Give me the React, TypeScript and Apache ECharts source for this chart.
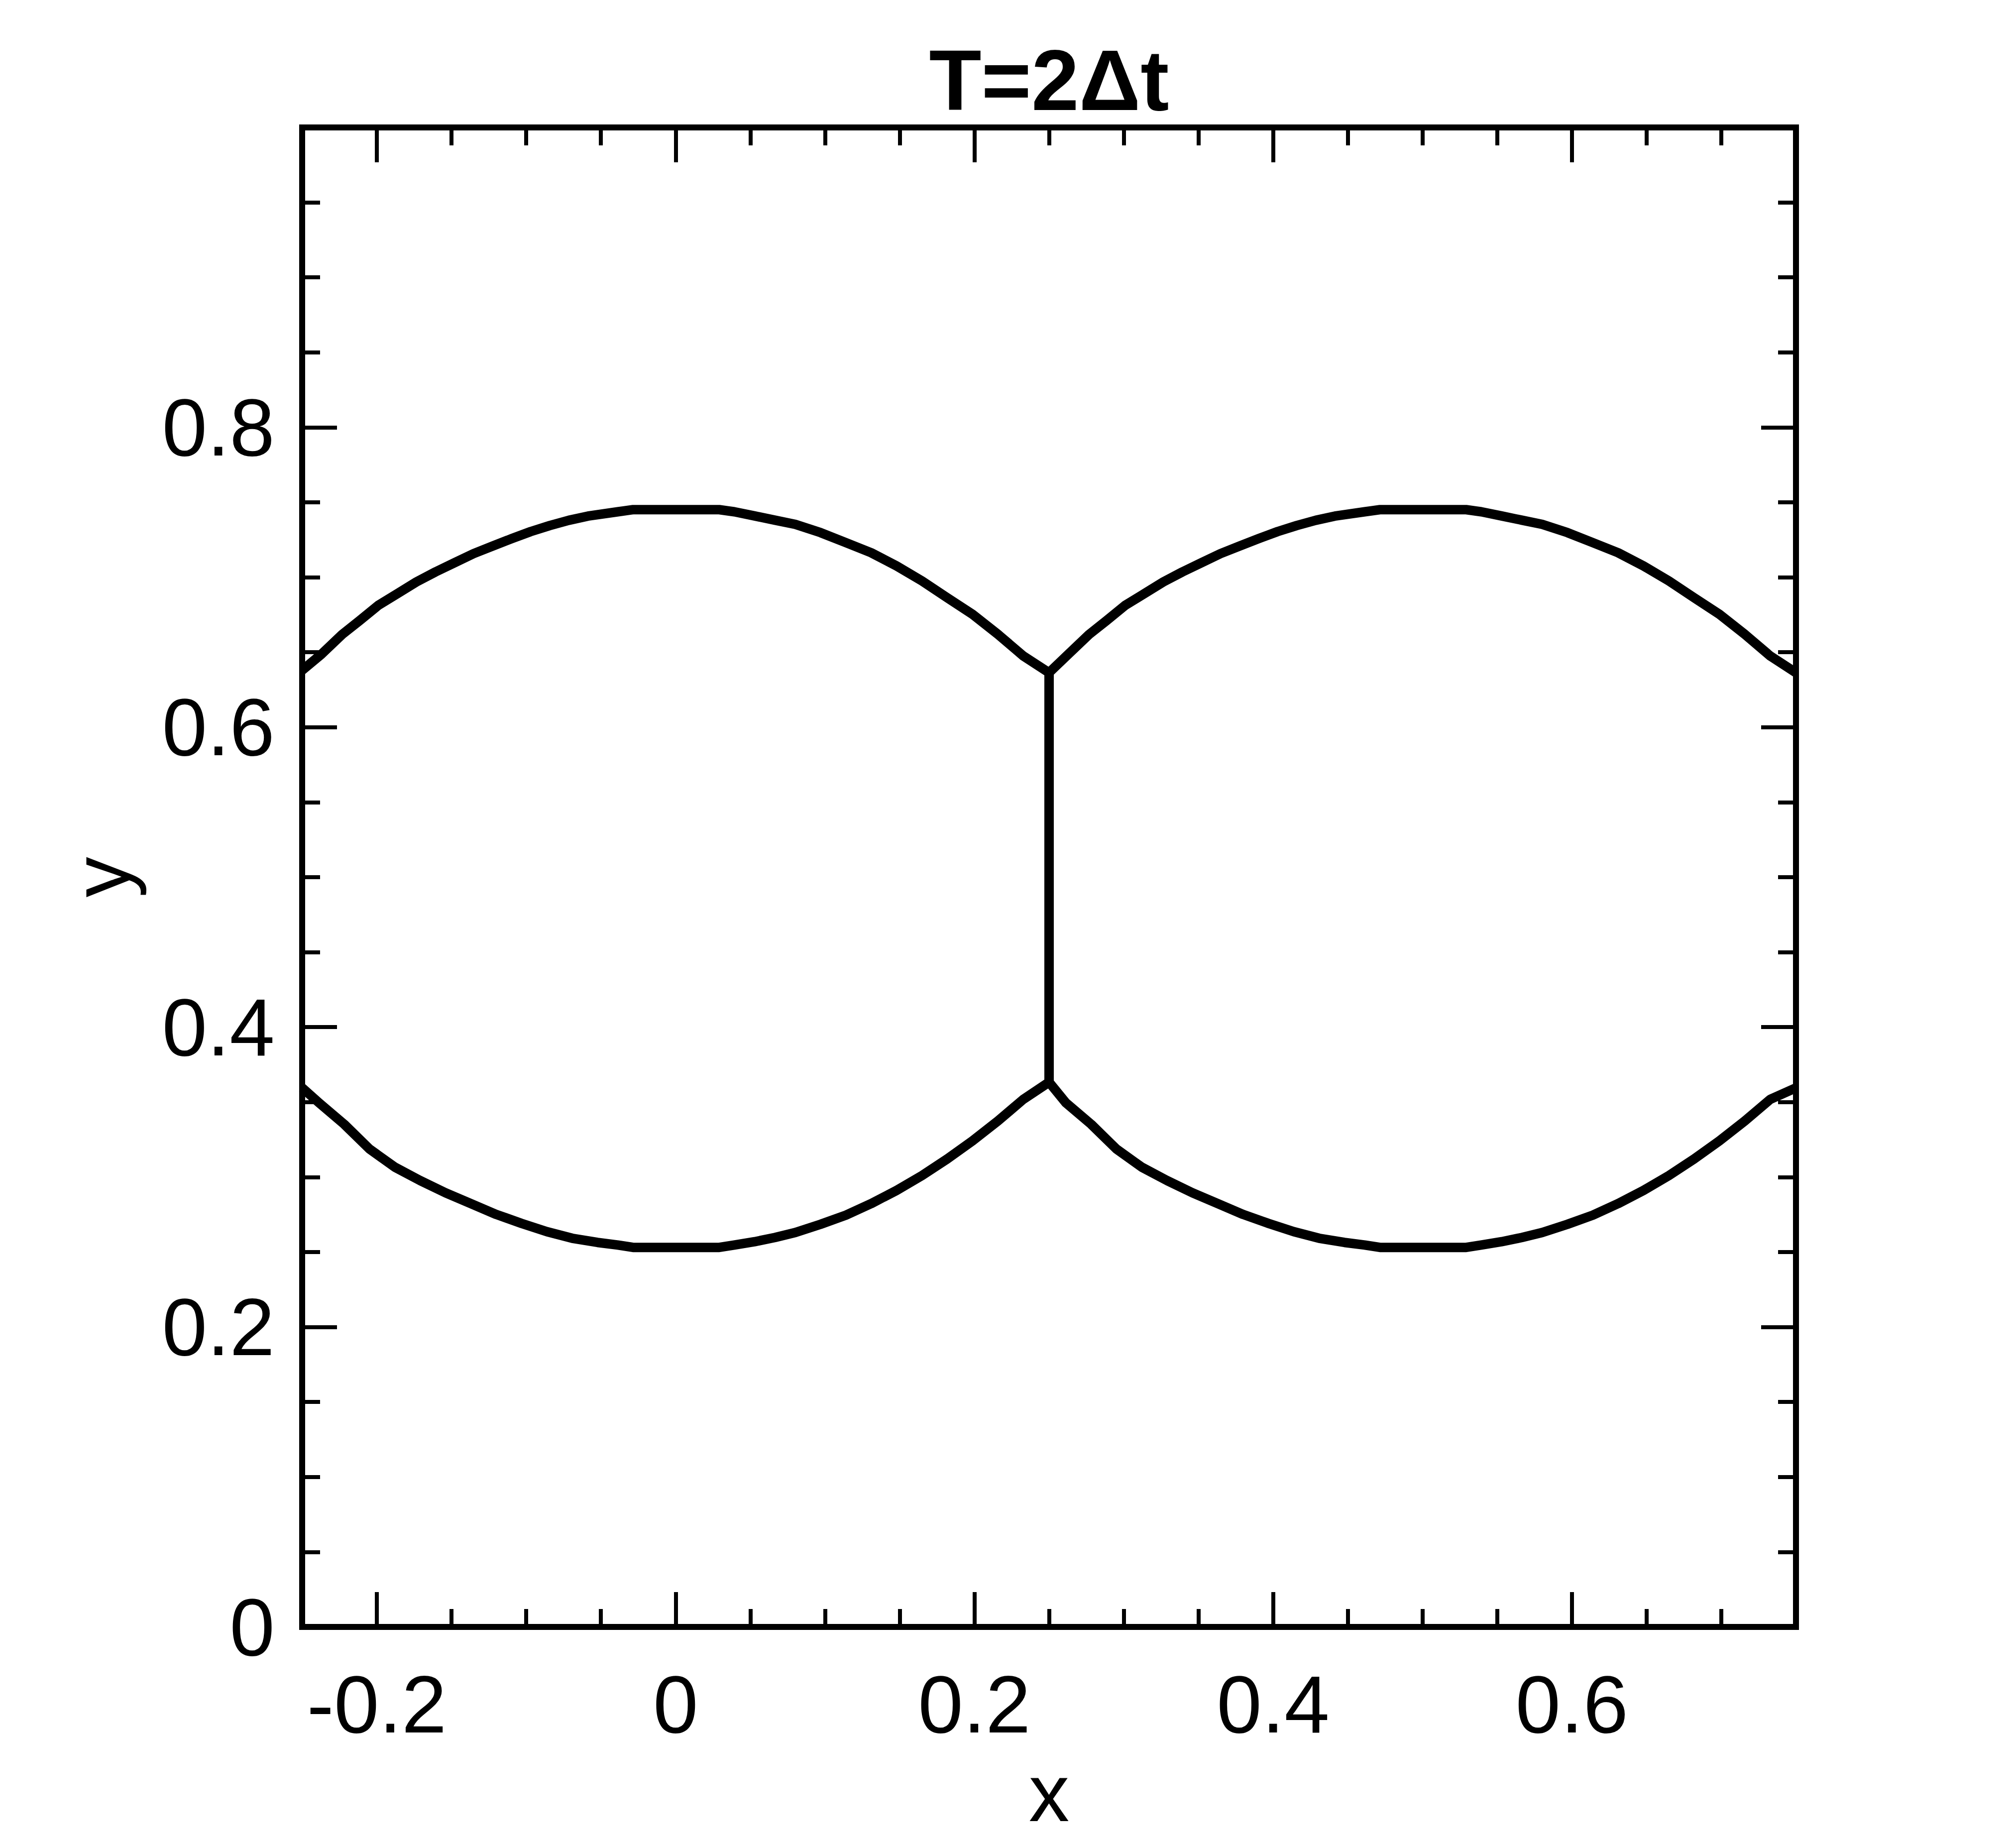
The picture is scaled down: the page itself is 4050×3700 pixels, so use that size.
import React, { useEffect, useRef } from "react";
import * as echarts from "echarts";

const titleText = "T=2Δt";
const xName = "x";
const yName = "y";

const xRange = [-0.25, 0.75];
const yRange = [0, 1];

const xMajorTicks = [-0.2, 0, 0.2, 0.4, 0.6];
const xMinorTicks = [-0.15, -0.1, -0.05, 0.05, 0.1, 0.15, 0.25, 0.3, 0.35, 0.45, 0.5, 0.55, 0.65, 0.7];
const yMajorTicks = [0, 0.2, 0.4, 0.6, 0.8];
const yMinorTicks = [0.05, 0.1, 0.15, 0.25, 0.3, 0.35, 0.45, 0.5, 0.55, 0.65, 0.7, 0.75, 0.85, 0.9, 0.95];

const leftBubbleTop: [number, number][] = [
  [-0.25, 0.638], [-0.2372, 0.6486], [-0.2232, 0.6619], [-0.2117, 0.671], [-0.199, 0.6813],
  [-0.1862, 0.6891], [-0.1735, 0.6969], [-0.1607, 0.7036], [-0.148, 0.7097], [-0.1352, 0.7158],
  [-0.1225, 0.7208], [-0.1097, 0.7258], [-0.097, 0.7305], [-0.0842, 0.7345], [-0.0715, 0.738],
  [-0.0587, 0.7408], [-0.0387, 0.7437], [-0.0285, 0.7451],
  [0.0292, 0.7451], [0.0393, 0.7437], [0.0529, 0.7409], [0.0665, 0.7381], [0.0801, 0.7353],
  [0.097, 0.7298], [0.114, 0.7231], [0.1309, 0.7164], [0.1479, 0.7076], [0.1649, 0.6976],
  [0.1818, 0.6864], [0.1988, 0.6753], [0.2157, 0.662], [0.2327, 0.6476], [0.25, 0.6364],
];

const leftBubbleBottom: [number, number][] = [
  [-0.25, 0.3595], [-0.2388, 0.3496], [-0.2218, 0.3352], [-0.2049, 0.3187], [-0.1879, 0.3066],
  [-0.171, 0.2977], [-0.154, 0.2895], [-0.137, 0.2823], [-0.1201, 0.2751], [-0.1031, 0.2691],
  [-0.0862, 0.2636], [-0.0692, 0.2592], [-0.0522, 0.2564], [-0.0387, 0.2547], [-0.0285, 0.2531],
  [0.0292, 0.2531], [0.0393, 0.2547], [0.0529, 0.2569], [0.0665, 0.2597], [0.0801, 0.263],
  [0.097, 0.2685], [0.114, 0.2746], [0.1309, 0.2823], [0.1479, 0.2911], [0.1649, 0.301],
  [0.1818, 0.3121], [0.1988, 0.3242], [0.2157, 0.3374], [0.2327, 0.3518], [0.25, 0.3633],
];

const rightBubbleTop: [number, number][] = [
  [0.25, 0.6364], [0.2628, 0.6486], [0.2768, 0.6619], [0.2883, 0.671], [0.301, 0.6813],
  [0.3138, 0.6891], [0.3265, 0.6969], [0.3393, 0.7036], [0.352, 0.7097], [0.3648, 0.7158],
  [0.3775, 0.7208], [0.3903, 0.7258], [0.403, 0.7305], [0.4158, 0.7345], [0.4285, 0.738],
  [0.4413, 0.7408], [0.4613, 0.7437], [0.4715, 0.7451],
  [0.5292, 0.7451], [0.5393, 0.7437], [0.5529, 0.7409], [0.5665, 0.7381], [0.5801, 0.7353],
  [0.597, 0.7298], [0.614, 0.7231], [0.6309, 0.7164], [0.6479, 0.7076], [0.6649, 0.6976],
  [0.6818, 0.6864], [0.6988, 0.6753], [0.7157, 0.662], [0.7327, 0.6476], [0.75, 0.6364],
];

const rightBubbleBottom: [number, number][] = [
  [0.25, 0.3633], [0.2612, 0.3496], [0.2782, 0.3352], [0.2951, 0.3187], [0.3121, 0.3066],
  [0.329, 0.2977], [0.346, 0.2895], [0.363, 0.2823], [0.3799, 0.2751], [0.3969, 0.2691],
  [0.4138, 0.2636], [0.4308, 0.2592], [0.4478, 0.2564], [0.4613, 0.2547], [0.4715, 0.2531],
  [0.5292, 0.2531], [0.5393, 0.2547], [0.5529, 0.2569], [0.5665, 0.2597], [0.5801, 0.263],
  [0.597, 0.2685], [0.614, 0.2746], [0.6309, 0.2823], [0.6479, 0.2911], [0.6649, 0.301],
  [0.6818, 0.3121], [0.6988, 0.3242], [0.7157, 0.3374], [0.7327, 0.3518], [0.75, 0.3595],
];

const middleWall: [number, number][] = [
  [0.25, 0.6364], [0.25, 0.3633],
];

const FONT = "'Liberation Sans', Arial, Helvetica, sans-serif";
const GRID = { left: 607, top: 256, width: 3001, height: 3012 };
const MAJOR_LEN = 70;
const MINOR_LEN = 36;
const TICK_W = 8;
const LABEL_SIZE = 163;

function xAxisDef(position: "top" | "bottom", ticks: number[], len: number, labels: boolean) {
  return {
    type: "value",
    position,
    min: xRange[0],
    max: xRange[1],
    splitLine: { show: false },
    axisLine: { show: false, onZero: false },
    axisTick: { show: true, inside: true, length: len, customValues: ticks, lineStyle: { color: "#000", width: TICK_W } },
    axisLabel: labels
      ? { show: true, customValues: ticks, margin: 74, fontSize: LABEL_SIZE, fontFamily: FONT, color: "#000", formatter: (v: number) => String(v) }
      : { show: false },
    name: labels ? xName : "",
    nameLocation: "middle",
    nameGap: 252,
    nameTextStyle: { fontSize: LABEL_SIZE, fontFamily: FONT, color: "#000" },
  };
}

function yAxisDef(position: "left" | "right", ticks: number[], len: number, labels: boolean) {
  return {
    type: "value",
    position,
    min: yRange[0],
    max: yRange[1],
    splitLine: { show: false },
    axisLine: { show: false, onZero: false },
    axisTick: { show: true, inside: true, length: len, customValues: ticks, lineStyle: { color: "#000", width: TICK_W } },
    axisLabel: labels
      ? { show: true, customValues: ticks, margin: 55, fontSize: LABEL_SIZE, fontFamily: FONT, color: "#000", formatter: (v: number) => String(v) }
      : { show: false },
    name: labels ? yName : "",
    nameLocation: "middle",
    nameRotate: 90,
    nameGap: 322,
    nameTextStyle: { fontSize: LABEL_SIZE, fontFamily: FONT, color: "#000" },
  };
}

function lineSeries(data: [number, number][]) {
  return {
    type: "line",
    data,
    xAxisIndex: 0,
    yAxisIndex: 0,
    symbol: "none",
    showSymbol: false,
    silent: true,
    clip: true,
    lineStyle: { color: "#000", width: 19, join: "round", cap: "butt" },
  };
}

export default function App() {
  const ref = useRef<HTMLDivElement>(null);
  useEffect(() => {
    const chart = echarts.init(ref.current!, null, { renderer: "svg" });
    chart.setOption({
      animation: false,
      backgroundColor: "#fff",
      grid: { ...GRID, show: true, borderColor: "#000", borderWidth: 12, backgroundColor: "transparent", containLabel: false, outerBoundsMode: "none" },
      xAxis: [
        xAxisDef("bottom", xMajorTicks, MAJOR_LEN, true),
        xAxisDef("bottom", xMinorTicks, MINOR_LEN, false),
        xAxisDef("top", xMajorTicks, MAJOR_LEN, false),
        xAxisDef("top", xMinorTicks, MINOR_LEN, false),
      ],
      yAxis: [
        yAxisDef("left", yMajorTicks, MAJOR_LEN, true),
        yAxisDef("left", yMinorTicks, MINOR_LEN, false),
        yAxisDef("right", yMajorTicks, MAJOR_LEN, false),
        yAxisDef("right", yMinorTicks, MINOR_LEN, false),
      ],
      graphic: [
        {
          type: "text",
          x: GRID.left + GRID.width / 2,
          y: 161,
          style: { text: titleText, font: `bold 172px ${FONT}`, fill: "#000", align: "center", verticalAlign: "middle" },
        },
      ],
      series: [
        lineSeries(leftBubbleTop),
        lineSeries(leftBubbleBottom),
        lineSeries(rightBubbleTop),
        lineSeries(rightBubbleBottom),
        lineSeries(middleWall),
      ],
    });
    return () => chart.dispose();
  }, []);
  return <div ref={ref} style={{ position: "absolute", left: 0, top: 0, width: 4050, height: 3700 }} />;
}
